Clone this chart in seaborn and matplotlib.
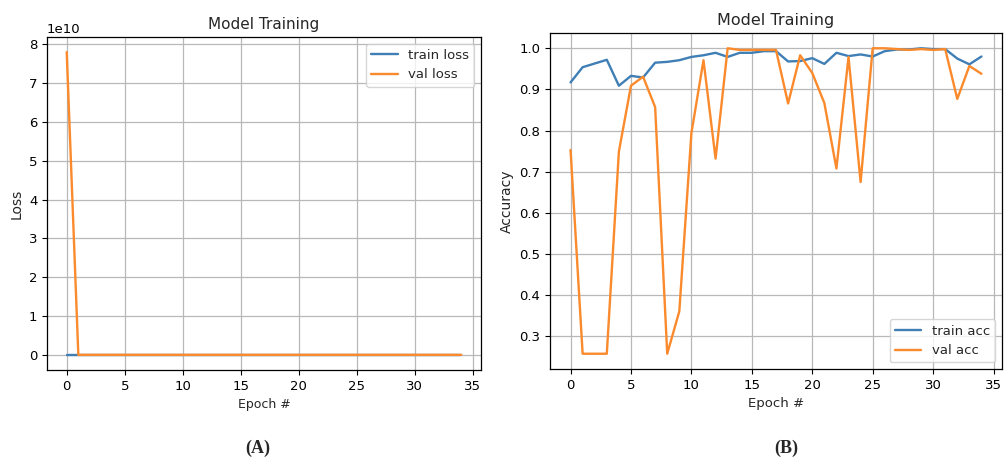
import numpy as np
import matplotlib.pyplot as plt
import seaborn as sns

# Epochs and training history
epochs = list(range(35))

train_loss = [0.28, 0.15, 0.12, 0.10, 0.27, 0.20, 0.21, 0.11, 0.10, 0.09,
              0.07, 0.06, 0.04, 0.07, 0.04, 0.04, 0.03, 0.03, 0.10, 0.09,
              0.08, 0.11, 0.04, 0.06, 0.05, 0.06, 0.03, 0.02, 0.02, 0.01,
              0.01, 0.01, 0.08, 0.12, 0.07]
val_loss = [7.8e10, 2.1, 2.3, 2.4, 0.9, 0.3, 0.2, 0.5, 3.1, 2.2,
            0.6, 0.1, 0.9, 0.01, 0.02, 0.02, 0.02, 0.02, 0.4, 0.06,
            0.2, 0.4, 1.0, 0.07, 1.2, 0.01, 0.01, 0.01, 0.02, 0.01,
            0.02, 0.01, 0.3, 0.12, 0.2]

train_acc = [0.917, 0.954, 0.963, 0.972, 0.909, 0.933, 0.929, 0.965, 0.967, 0.971,
             0.979, 0.983, 0.989, 0.979, 0.989, 0.989, 0.993, 0.993, 0.968, 0.969,
             0.976, 0.962, 0.989, 0.981, 0.985, 0.980, 0.993, 0.997, 0.997, 1.000,
             0.998, 0.998, 0.975, 0.961, 0.980]
val_acc = [0.753, 0.258, 0.258, 0.258, 0.749, 0.909, 0.931, 0.857, 0.258, 0.361,
           0.794, 0.971, 0.732, 1.000, 0.996, 0.996, 0.996, 0.996, 0.866, 0.983,
           0.940, 0.867, 0.708, 0.979, 0.675, 1.000, 1.000, 0.998, 0.996, 0.998,
           0.996, 0.998, 0.877, 0.957, 0.938]

sns.set_style("ticks")
plt.rcParams['font.family'] = ['DejaVu Sans']

blue = '#3f7fb5'
orange = '#fb8a2c'

fig = plt.figure(figsize=(10.06, 4.62), dpi=100)
W, H = 1006, 462

# Left panel: loss
ax1 = fig.add_axes([47 / W, 1 - 370 / H, 434 / W, 333 / H])
sns.lineplot(x=epochs, y=train_loss, ax=ax1, label='train loss', color=blue, linewidth=1.7)
sns.lineplot(x=epochs, y=val_loss, ax=ax1, label='val loss', color=orange, linewidth=1.7)
ax1.set_title('Model Training', fontsize=11)
ax1.set_xlabel('Epoch #', fontsize=9)
ax1.set_ylabel('Loss', fontsize=10)
ax1.tick_params(labelsize=9.5)
ax1.yaxis.get_offset_text().set_fontsize(9.5)
ax1.grid(True, color='#b8b8b8', linewidth=0.9)
ax1.legend(loc='upper right', fontsize=9.5, frameon=True)

# Right panel: accuracy
ax2 = fig.add_axes([550 / W, 1 - 369 / H, 452 / W, 336 / H])
sns.lineplot(x=epochs, y=train_acc, ax=ax2, label='train acc', color=blue, linewidth=1.7)
sns.lineplot(x=epochs, y=val_acc, ax=ax2, label='val acc', color=orange, linewidth=1.7)
ax2.set_title('Model Training', fontsize=11.5)
ax2.set_xlabel('Epoch #', fontsize=9.5)
ax2.set_ylabel('Accuracy', fontsize=10)
ax2.tick_params(labelsize=9.5)
ax2.grid(True, color='#b8b8b8', linewidth=0.9)
ax2.legend(loc='lower right', fontsize=9.5, frameon=True)

for ax in (ax1, ax2):
    for s in ax.spines.values():
        s.set_color('black')
        s.set_linewidth(0.9)
    ax.tick_params(color='black', labelcolor='black')

fig.text(258 / W, 1 - 448 / H, '(A)', family='Liberation Serif', fontweight='bold',
         fontsize=13, ha='center', va='center')
fig.text(786 / W, 1 - 448 / H, '(B)', family='Liberation Serif', fontweight='bold',
         fontsize=13, ha='center', va='center')

fig.savefig('out.png', dpi=100)
